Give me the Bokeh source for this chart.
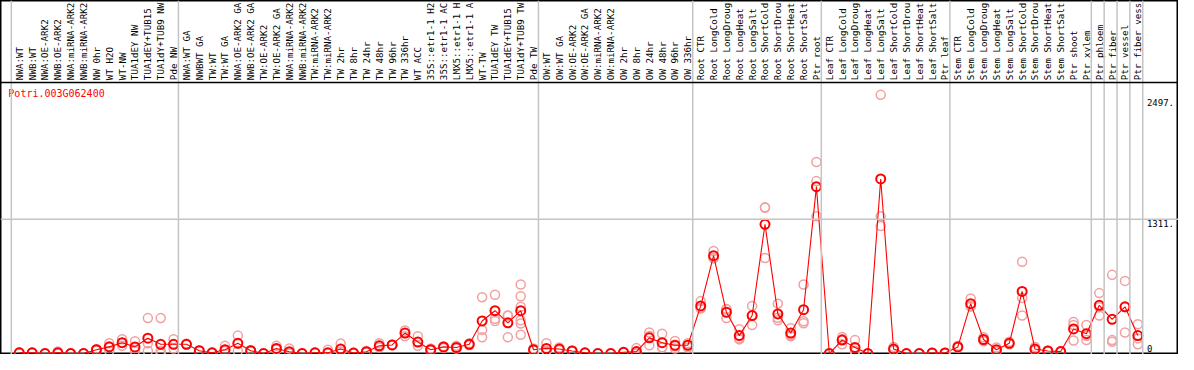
from bokeh.plotting import figure
from bokeh.models import Range1d, Span, ColumnDataSource
from bokeh.core.properties import value
from bokeh.embed import file_html
from bokeh.resources import INLINE
import math

gene = "Potri.003G062400"

labels = [
    "NWA:WT", "NWB:WT", "NWA:OE-ARK2", "NWB:OE-ARK2", "NWA:miRNA-ARK2", "NWB:miRNA-ARK2",
    "NW 0hr", "WT H2O", "WT-NW", "TUA1dEY NW", "TUA1dEY+TUB15", "TUA1dY+TUB9 NW", "Pde NW",
    "NWA:WT GA", "NWBWT GA", "TW:WT", "TW:WT GA", "NWA:OE-ARK2 GA", "NWB:OE-ARK2 GA",
    "TW:OE-ARK2", "TW:OE-ARK2 GA", "NWA:miRNA-ARK2", "NWB:miRNA-ARK2", "TW:miRNA-ARK2",
    "TW:miRNA-ARK2", "TW 2hr", "TW 8hr", "TW 24hr", "TW 48hr", "TW 96hr", "TW 336hr",
    "WT ACC", "35S::etr1-1 H2O", "35S::etr1-1 ACC", "LMX5::etr1-1 H2O", "LMX5::etr1-1 ACC",
    "WT-TW", "TUA1dEY TW", "TUA1dEY+TUB15", "TUA1dY+TUB9 TW", "Pde TW",
    "OW:WT", "OW:WT GA", "OW:OE-ARK2", "OW:OE-ARK2 GA", "OW:miRNA-ARK2", "OW:miRNA-ARK2",
    "OW 2hr", "OW 8hr", "OW 24hr", "OW 48hr", "OW 96hr", "OW 336hr",
    "Root CTR", "Root LongCold", "Root LongDrought", "Root LongHeat", "Root LongSalt",
    "Root ShortCold", "Root ShortDrought", "Root ShortHeat", "Root ShortSalt", "Ptr root",
    "Leaf CTR", "Leaf LongCold", "Leaf LongDrought", "Leaf LongHeat", "Leaf LongSalt",
    "Leaf ShortCold", "Leaf ShortDrought", "Leaf ShortHeat", "Leaf ShortSalt", "Ptr leaf",
    "Stem CTR", "Stem LongCold", "Stem LongDrought", "Stem LongHeat", "Stem LongSalt",
    "Stem ShortCold", "Stem ShortDrought", "Stem ShortHeat", "Stem ShortSalt",
    "Ptr shoot", "Ptr xylem", "Ptr phloem", "Ptr fiber", "Ptr vessel", "Ptr fiber vessel",
]

means = [
    7, 7, 0, 7, 0, 0, 37, 65, 106, 65, 150, 90, 90,
    90, 28, 7, 37, 100, 28, 0, 50, 18, 0, 7, 7, 44, 5, 18, 75, 84, 200,
    112, 37, 65, 59, 90, 318, 418, 300, 418, 37,
    50, 44, 25, 7, 0, 0, 12, 19, 153, 106, 81, 81,
    465, 955, 403, 175, 371, 1261, 387, 200, 428, 1629,
    0, 131, 59, 0, 1704, 44, 0, 0, 6, 6,
    65, 487, 137, 37, 100, 606, 44, 25, 19,
    240, 194, 471, 334, 456, 175,
]

rep_a = [
    12, 10, 0, 20, 0, 0, 45, 100, 140, 120, 346, 346, 140,
    95, 30, 10, 75, 175, 35, 0, 75, 50, 0, 10, 37, 97, 5, 25, 100, 84, 225,
    168, 50, 70, 75, 100, 550, 574, 371, 674, 50,
    100, 59, 25, 7, 0, 0, 12, 53, 206, 194, 122, 100,
    512, 1002, 434, 237, 465, 1423, 487, 247, 674, 1870,
    0, 162, 131, 0, 2525, 65, 0, 0, 8, 8,
    75, 537, 160, 60, 115, 896, 65, 25, 19,
    309, 278, 590, 768, 709, 287,
]

rep_b = [
    0, 3, 0, 0, 0, 0, 30, 25, 75, 25, 25, 25, 50,
    85, 25, 5, 25, 25, 20, 0, 40, 10, 0, 5, 0, 20, 0, 10, 60, 80, 168,
    75, 30, 55, 50, 80, 231, 340, 159, 559, 30,
    25, 35, 20, 5, 0, 0, 8, 0, 81, 59, 50, 59,
    440, 933, 346, 150, 278, 933, 325, 168, 315, 1683,
    0, 90, 25, 0, 1339, 30, 0, 0, 4, 4,
    60, 460, 120, 20, 90, 371, 30, 20, 15,
    278, 131, 371, 131, 206, 90,
]

rep_c = [
    8, 8, 2, 5, 2, 2, 37, 70, 106, 55, 100, 0, 90,
    90, 28, 7, 37, 100, 28, 2, 50, 0, 2, 7, 7, 44, 8, 18, 75, 88, 200,
    112, 37, 65, 59, 90, 159, 318, 370, 184, 31,
    28, 38, 30, 7, 2, 2, 16, 4, 172, 62, 71, 84,
    443, 930, 429, 138, 370, 1427, 349, 180, 295, 1339,
    0, 141, 21, 0, 1245, 37, 0, 0, 6, 6,
    60, 464, 131, 31, 95, 543, 37, 30, 23,
    128, 173, 452, 115, 453, 148,
]

# additional replicates for the column with more samples (TUA1dY+TUB9 TW)
extra_col = [40, 40, 40]
extra_vals = [456, 325, 293]

# number of columns at the end of each group (vertical separators)
group_ends = [0, 13, 41, 53, 63, 73, 84, 85, 86, 87, 88]

tick_values = [0, 1311, 2497]
tick_labels = ["0", "1311.", "2497."]

# ---------------------------------------------------------------- layout
W, H = 1178, 354
col_px = 13.01          # reference pixel pitch per column
first_px = 19.0         # reference pixel of the first column
ref_w, ref_h = 1192.0, 369.0
zero_px = 368.0
unit_px = 140.0 / 1311.0
max_chars = 14          # the label band shows at most this many characters

x0 = 1 - first_px / col_px
x1 = 1 + (ref_w - first_px) / col_px
y0 = -(ref_h - zero_px) / unit_px
y1 = zero_px / unit_px
label_base = (zero_px - 83) / unit_px
sep_y = (zero_px - 85.5) / unit_px
title_y = (zero_px - 97) / unit_px

p = figure(width=W, height=H, x_range=Range1d(x0, x1), y_range=Range1d(y0, y1),
           output_backend="svg", toolbar_location=None,
           x_axis_location=None, y_axis_location=None, min_border=0)
p.grid.visible = False
p.outline_line_color = "black"
p.outline_line_width = 2
p.background_fill_color = "white"
p.border_fill_color = "white"

grey = "#c4c4c4"
for g in group_ends:
    p.add_layout(Span(location=g + 0.38, dimension="height", line_color=grey, line_width=1.5))
p.add_layout(Span(location=tick_values[1], dimension="width", line_color=grey, line_width=1.5))
p.add_layout(Span(location=sep_y, dimension="width", line_color="black", line_width=1.5))

xs = list(range(1, len(means) + 1))

# sample labels
shown = [s[:max_chars] for s in labels]
lab_src = ColumnDataSource(dict(x=xs, y=[label_base] * len(xs), t=shown))
p.text(x="x", y="y", text="t", source=lab_src, angle=math.pi / 2,
       text_align="left", text_baseline="middle",
       text_font=value("DejaVu Sans Mono"), text_font_size="9.2px", text_color="black")

# replicates
rep_x = xs * 3 + extra_col
rep_y = rep_a + rep_b + rep_c + extra_vals
p.scatter(rep_x, rep_y, marker="circle", size=9, fill_color=None,
          line_color="#f0a0a0", line_width=1.5)

# mean line and points
p.line(xs, means, line_color="red", line_width=1.1)
p.scatter(xs, means, marker="circle", size=9, fill_color=None,
          line_color="red", line_width=2)

# title
p.text(x=[0.15], y=[title_y], text=[gene], text_align="left", text_baseline="middle",
       text_font=value("DejaVu Sans Mono"), text_font_size="10px", text_color="red")

# y tick labels on the right
tx = 1 + (1160 - first_px) / col_px
p.text(x=[tx, tx], y=tick_values[1:], text=tick_labels[1:], text_align="left",
       text_baseline="top", y_offset=1, text_font=value("DejaVu Sans Mono"),
       text_font_size="9px", text_color="black")
p.text(x=[tx], y=tick_values[:1], text=tick_labels[:1], text_align="left",
       text_baseline="bottom", y_offset=-2, text_font=value("DejaVu Sans Mono"),
       text_font_size="9px", text_color="black")

open("out.html", "w").write(file_html(p, INLINE))
